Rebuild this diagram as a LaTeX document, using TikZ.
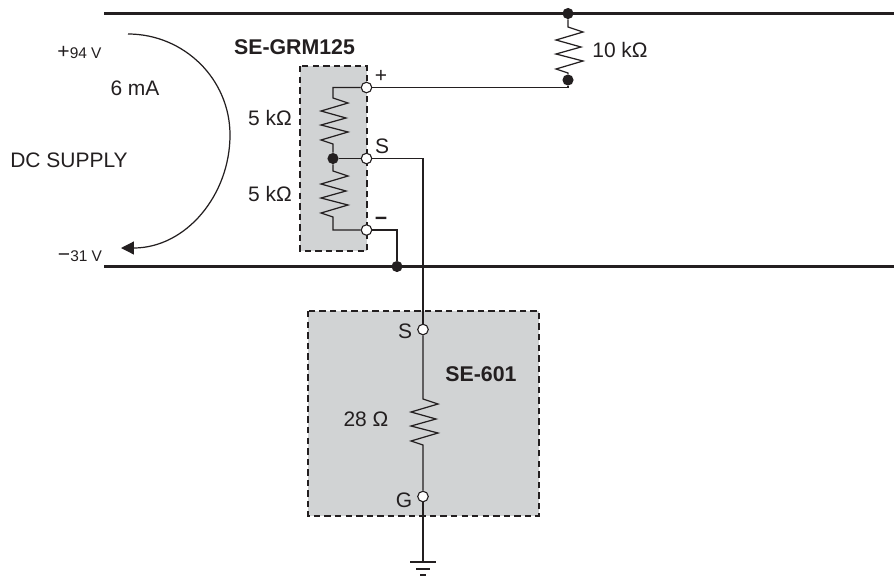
\documentclass[tikz,border=0pt]{standalone}
\usepackage{fontspec}
\setmainfont{Liberation Sans}
\usetikzlibrary{positioning,arrows.meta}
\definecolor{boxCol}{RGB}{209, 211, 212}
\definecolor{inkCol}{RGB}{35, 31, 32}
\tikzset{myWire/.style={line width=1.05pt,color=inkCol}}
\tikzset{myRail/.style={line width=3pt,color=inkCol}}
\tikzset{myBox/.style={fill=boxCol,draw=inkCol,line width=0.9pt,dash pattern=on 5.5pt off 3.5pt}}
\tikzset{myTerm/.style={circle,draw=inkCol,fill=white,line width=0.95pt,minimum size=9pt,inner sep=0pt}}
\tikzset{myDot/.style={circle,fill=inkCol,minimum size=9.5pt,inner sep=0pt}}
\tikzset{myLabel/.style={inner sep=0pt,text=inkCol,font=\fontsize{17.9}{20}\selectfont}}
\tikzset{myBold/.style={inner sep=0pt,text=inkCol,font=\fontsize{18.2}{20}\selectfont\bfseries}}
\tikzset{mySmall/.style={inner sep=0pt,text=inkCol,font=\fontsize{13.2}{15}\selectfont}}
\newcommand{\myZig}{-- ++(15,5) -- ++(-27,8) -- ++(25,7) -- ++(-25,7) -- ++(27,7) -- ++(-27,8) -- ++(12,4)}
\newcommand{\mySign}[1]{{\fontsize{18}{15}\selectfont #1}}

\begin{document}
\begin{tikzpicture}[x=0.03cm,y=-0.03cm]
	\useasboundingbox (0,0) rectangle (894,577);
	% grey boxes
	\draw[myBox](300,66) rectangle (367,251);
	\draw[myBox](308,311) rectangle (539,516);

	% supply rails
	\coordinate (topL) at (104,13.5);
	\coordinate (topR) at (894,13.5);
	\coordinate (botL) at (104,266.5);
	\coordinate (botR) at (894,266.5);
	\draw[myRail](topL)--(topR);
	\draw[myRail](botL)--(botR);

	% terminals and junctions
	\node[myDot] (dotTop) at (568,13.5) {};
	\node[myDot] (dotLoad) at (568,80) {};
	\node[myDot] (dotMid) at (333,158.5) {};
	\node[myDot] (dotBot) at (397,266.5) {};
	\node[myTerm] (termPlus) at (366.5,87.5) {};
	\node[myTerm] (termS) at (366.5,158.5) {};
	\node[myTerm] (termMinus) at (366.5,230) {};
	\node[myTerm] (termSensor) at (423,329.5) {};
	\node[myTerm] (termG) at (423,496.5) {};

	% 10 k
	\coordinate (rLoad) at (568,27);
	\draw[myWire](dotTop)--(rLoad) \myZig --(dotLoad);
	\draw[myWire](termPlus)-|(dotLoad);

	% divider
	\coordinate (cornerA) at (333,87.5);
	\coordinate (rUp) at (333,98);
	\coordinate (rLow) at (333,171);
	\coordinate (cornerB) at (333,230);
	\draw[myWire](termPlus)--(cornerA)--(rUp) \myZig --(dotMid);
	\draw[myWire](dotMid)--(rLow) \myZig --(cornerB)--(termMinus);
	\draw[myWire](dotMid)--(termS);
	\draw[myWire](termMinus)-|(dotBot);

	% sensor loop
	\coordinate (rSensor) at (423,399);
	\coordinate (gnd) at (423,562);
	\draw[myWire](termS)-|(termSensor);
	\draw[myWire](termSensor)--(rSensor) \myZig --(termG);
	\draw[myWire](termG)--(gnd);
	\foreach \w/\y in {13/562,7/569,3/575}
		\draw[myWire](423-\w,\y)--(423+\w,\y);

	% current arrow
	\coordinate (arcA) at (128,34);
	\coordinate (arcB) at (230,135);
	\coordinate (arcC) at (121,248);
	\draw[myWire, -{Triangle[length=11pt,width=11pt]}](arcA) .. controls (184,34) and (230,79) .. (arcB) .. controls (230,195) and (186,248) .. (arcC);

	% labels
	\node[mySmall] (lblHigh) at (79.5,52) {\mySign{+}94 V};
	\node[mySmall] (lblLow) at (80,256) {\mySign{−}31 V};
	\node[myLabel] (lblCur) at (135,88) {6 mA};
	\node[myLabel] (lblSupply) at (69,160) {DC SUPPLY};
	\node[myBold] (lblGrm) at (294.5,47) {SE-GRM125};
	\node[myLabel] (lblFiveA) at (270,118) {5 kΩ};
	\node[myLabel] (lblFiveB) at (270,194) {5 kΩ};
	\node[myLabel] (lblTen) at (620,50) {10 kΩ};
	\node[myLabel] (lblPlus) at (381,76) {+};
	\node[myLabel] (lblS) at (382,146) {S};
	\node[myBold] (lblMinus) at (381,221) {−};
	\node[myLabel] (lblSensorS) at (405,331) {S};
	\node[myLabel] (lblG) at (404,500) {G};
	\node[myBold] (lblSe) at (481,374) {SE-601};
	\node[myLabel] (lblTw) at (366,419) {28 Ω};
\end{tikzpicture}
\end{document}
